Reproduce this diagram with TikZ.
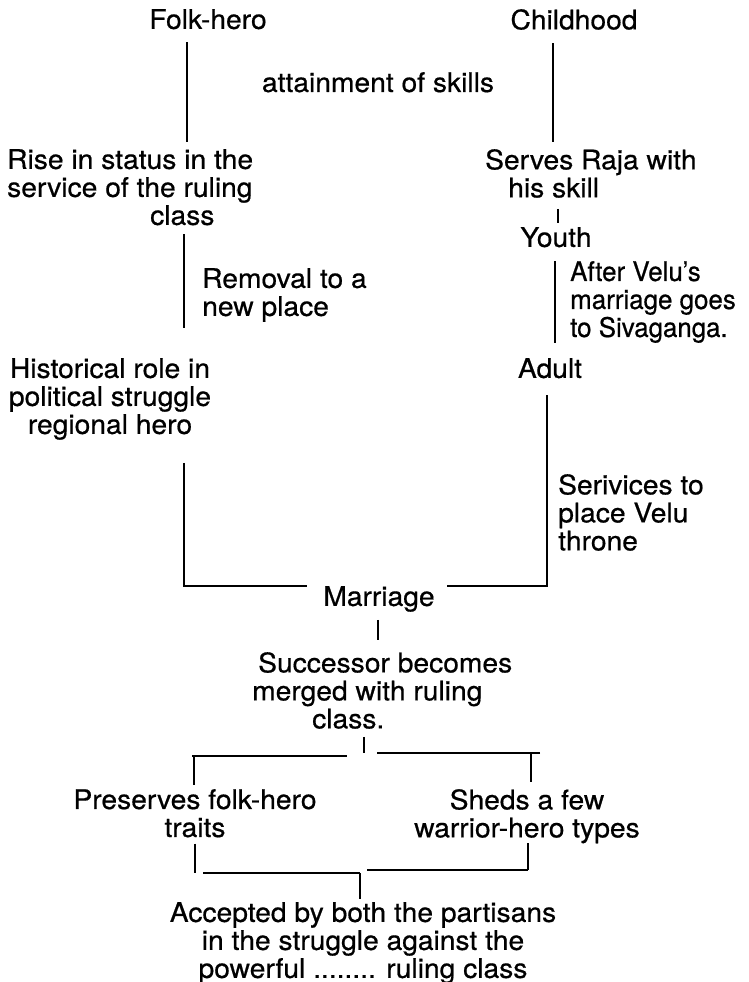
\documentclass[tikz,border=0pt]{standalone}
\usepackage{fontspec}
\setmainfont{TeX Gyre Heros}[FakeStretch=1.045,FakeBold=0.6]
\newfontfamily\narrowfont{TeX Gyre Heros}[FakeStretch=0.96,FakeBold=0.6]
\begin{document}
\begin{tikzpicture}[x=1pt,y=-1pt,
  txt/.style={inner sep=0pt, font=\fontsize{27}{28}\selectfont},
  mainline/.style={line width=2.8pt},
  tickline/.style={line width=1.5pt}]
\useasboundingbox (0,0) rectangle (748,982);

% upper part: two parallel careers
\node[txt, anchor=north] (fh) at (208,9) {Folk-hero};
\node[txt, anchor=north] (ch) at (574,9) {Childhood};
\node[txt, anchor=north] (att) at (378,72) {attainment of skills};
\node[txt, anchor=north west, align=left] (rise) at (7,149)
  {Rise in status in the\\service of the ruling\\\hspace*{143pt}class};
\node[txt, anchor=north west, align=left] (serves) at (485,149)
  {Serves Raja with\\\hspace*{23pt}his skill};
\node[txt, anchor=north] (youth) at (556,227) {Youth};
\node[txt, anchor=north west, align=left] (removal) at (202,268)
  {Removal to a\\new place};
\node[txt, anchor=north west, align=left, font=\narrowfont\fontsize{27}{28}\selectfont] (after) at (570,261)
  {After Velu’s\\marriage goes\\to Sivaganga.};
\node[txt, anchor=north] (adult) at (550,358) {Adult};
\node[txt, anchor=north, align=center] (hist) at (110,358)
  {Historical role in\\political struggle\\regional hero};
\node[txt, anchor=north west, align=left] (serv) at (558,474)
  {Serivices to\\place Velu\\throne};
\node[txt, anchor=north] (marr) at (379,586) {Marriage};

% lower part
\node[txt, anchor=north west, align=left] (succ) at (252,652)
  {\hspace*{6pt}Successor becomes\\merged with ruling\\\hspace*{60pt}class.};
\node[txt, anchor=north, align=center] (pres) at (195,789)
  {Preserves folk-hero\\traits};
\node[txt, anchor=north, align=center] (sheds) at (527,789)
  {Sheds a few\\warrior-hero types};
\node[txt, anchor=north, align=center] (acc) at (363,902)
  {Accepted by both the partisans\\in the struggle against the\\powerful ........ ruling class};

% vertical connectors of the two careers
\draw[mainline, shorten <=13pt, shorten >=7pt] (187,0 |- fh.south) -- (187,0 |- rise.north);
\draw[mainline, shorten <=13pt, shorten >=7pt] (553,0 |- ch.south) -- (553,0 |- serves.north);
\draw[tickline, shorten <=11pt, shorten >=4pt] (558,0 |- serves.south) -- (558,0 |- youth.north);
\draw[mainline, shorten <=9pt, shorten >=30pt] (184,0 |- rise.south) -- (184,0 |- hist.north);
\draw[mainline, shorten <=14pt, shorten >=15pt] (555,0 |- youth.south) -- (555,0 |- adult.north);

% both careers join at the marriage
\draw[mainline, shorten <=23pt] (184,0 |- hist.south) -- (184,0 |- marr.north)
  -- ([xshift=-16pt]marr.north west);
\draw[mainline, shorten <=17pt] (547,0 |- adult.south) -- (547,0 |- marr.north)
  -- ([xshift=12pt]marr.north east);
\draw[tickline, shorten <=8pt, shorten >=12pt] (378,0 |- marr.south) -- (378,0 |- succ.north);

% branching into two traits
\coordinate (bl) at (192,756);
\coordinate (br) at (540,753);
\draw[tickline, shorten <=8pt] (364,0 |- succ.south) -- (364,0 |- br);
\draw[mainline] (bl) -- ++(155,0);
\draw[mainline] (br) -- ++(-163,0);
\draw[tickline, shorten >=4pt] (194,0 |- bl) -- (194,0 |- pres.north);
\draw[tickline, shorten >=7pt] (531,0 |- br) -- (531,0 |- sheds.north);

% joining again into the final outcome
\coordinate (cl) at (203,873);
\coordinate (cr) at (528,870);
\draw[tickline, shorten <=6pt] (195,0 |- pres.south) -- (195,0 |- cl);
\draw[tickline] (528,0 |- sheds.south) -- (cr);
\draw[mainline] (cl) -- ++(157,0);
\draw[mainline] (cr) -- ++(-161,0);
\draw[tickline, shorten >=3pt] (360,0 |- cl) -- (360,0 |- acc.north);
\end{tikzpicture}
\end{document}
